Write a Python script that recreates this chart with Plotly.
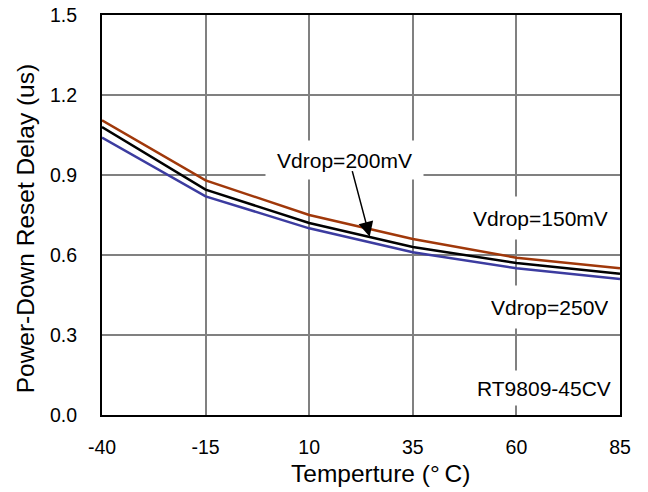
import plotly.graph_objects as go

temps = [-40, -15, 10, 35, 60, 85]
vdrop150 = [1.105, 0.88, 0.75, 0.66, 0.59, 0.55]
vdrop200 = [1.08, 0.845, 0.72, 0.63, 0.57, 0.53]
vdrop250 = [1.04, 0.82, 0.70, 0.61, 0.55, 0.51]
x_ticks = [-40, -15, 10, 35, 60, 85]
x_tick_text = ["-40", "-15", "10", "35", "60", "85"]
y_ticks = [0.0, 0.3, 0.6, 0.9, 1.2, 1.5]
y_tick_text = ["0.0", "0.3", "0.6", "0.9", "1.2", "1.5"]

fam = "Liberation Sans, Arial, sans-serif"

fig = go.Figure()
fig.add_trace(go.Scatter(x=temps, y=vdrop150, mode="lines", line=dict(color="#A0380A", width=2.5), name="Vdrop=150mV"))
fig.add_trace(go.Scatter(x=temps, y=vdrop250, mode="lines", line=dict(color="#3C3CA0", width=2.5), name="Vdrop=250V"))
fig.add_trace(go.Scatter(x=temps, y=vdrop200, mode="lines", line=dict(color="black", width=2.5), name="Vdrop=200mV"))

fig.update_layout(
    width=648, height=492,
    margin=dict(l=102, r=28, t=15, b=77),
    paper_bgcolor="white", plot_bgcolor="white",
    showlegend=False,
    font=dict(family=fam, size=20, color="black"),
    xaxis=dict(range=[-40, 85], tickvals=x_ticks, ticktext=x_tick_text, showgrid=True,
               gridcolor="#808080", gridwidth=1.5, automargin=False, ticklabeloverflow="allow",
               showline=True, linecolor="black", linewidth=2, mirror=True, zeroline=False,
               ticks="", tickfont=dict(size=19.5), ticklabelstandoff=14),
    yaxis=dict(range=[0, 1.5], tickvals=y_ticks, ticktext=y_tick_text, showgrid=True,
               gridcolor="#808080", gridwidth=1.5, automargin=False, ticklabeloverflow="allow",
               showline=True, linecolor="black", linewidth=2, mirror=True, zeroline=False,
               ticks="", tickfont=dict(size=19.5), ticklabelstandoff=19),
)

title_font = dict(family=fam, size=24.5, color="black")
fig.add_annotation(xref="paper", yref="paper", x=0.5386, y=-0.145, text="Temperture (°\u2009C)",
                   showarrow=False, font=title_font, xanchor="center", yanchor="middle")
fig.add_annotation(xref="paper", yref="paper", x=-0.148, y=0.4675, text="Power-Down Reset Delay (us)",
                   showarrow=False, font=title_font, xanchor="center", yanchor="middle", textangle=-90)

ann_font = dict(family=fam, size=21, color="black")
fig.add_annotation(x=18.6, y=0.955, text="Vdrop=200mV", showarrow=False, bgcolor="white", font=ann_font,
                   xanchor="center", yanchor="middle", width=157, height=38, borderpad=0)
fig.add_annotation(x=24.6, y=0.668, ax=20.3, ay=0.92, axref="x", ayref="y", xref="x", yref="y",
                   text="", showarrow=True, arrowhead=2, arrowsize=2.0, arrowwidth=1.5, arrowcolor="black")
fig.add_annotation(x=82.3, y=0.74, text="Vdrop=150mV", showarrow=False, bgcolor="white", font=ann_font,
                   xanchor="right", yanchor="middle", height=42, borderpad=0)
fig.add_annotation(x=82.3, y=0.405, text="Vdrop=250V", showarrow=False, bgcolor="white", font=ann_font,
                   xanchor="right", yanchor="middle", height=42, borderpad=0)
fig.add_annotation(x=83, y=0.10, text="RT9809-45CV", showarrow=False, bgcolor="white", font=ann_font,
                   xanchor="right", yanchor="middle", height=34, borderpad=0)

fig.write_html("out.html", config={"displayModeBar": False},
               post_script="document.body.style.margin='0';")
